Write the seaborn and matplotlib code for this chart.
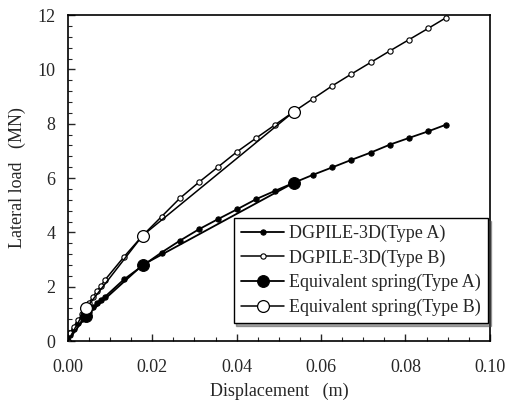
import numpy as np
import pandas as pd
import seaborn as sns
import matplotlib.pyplot as plt
from matplotlib.ticker import MultipleLocator

# displacement steps shared by the DGPILE-3D runs (m)
disp = [0, 0.0006, 0.0014, 0.0024, 0.0034, 0.0043, 0.0050, 0.0060, 0.0069, 0.0078,
        0.0088, 0.0133, 0.0177, 0.0222, 0.0265, 0.0310, 0.0356, 0.0401, 0.0447,
        0.0491, 0.0536, 0.0581, 0.0626, 0.0672, 0.0718, 0.0763, 0.0809, 0.0854, 0.0897]
load_a = [0, 0.22, 0.45, 0.65, 0.80, 0.95, 1.08, 1.24, 1.40, 1.52,
          1.63, 2.27, 2.77, 3.26, 3.69, 4.11, 4.49, 4.85, 5.23,
          5.53, 5.83, 6.12, 6.39, 6.67, 6.94, 7.23, 7.48, 7.72, 7.97]
load_b = [0, 0.28, 0.53, 0.77, 0.99, 1.20, 1.41, 1.63, 1.85, 2.02,
          2.25, 3.10, 3.88, 4.58, 5.25, 5.84, 6.41, 6.97, 7.48,
          7.96, 8.45, 8.92, 9.39, 9.83, 10.26, 10.68, 11.10, 11.51, 11.91]

# equivalent spring (tri-linear)
spring_disp = [0, 0.0043, 0.0177, 0.0536]
spring_a = [0, 0.92, 2.80, 5.83]
spring_b = [0, 1.20, 3.88, 8.45]

sns.set_style('ticks')
plt.rcParams['font.family'] = ['Liberation Serif', 'DejaVu Serif']
plt.rcParams['xtick.direction'] = 'in'
plt.rcParams['ytick.direction'] = 'in'

fig = plt.figure(figsize=(5.14, 4.07), dpi=100)
ax = fig.add_axes([0.132, 0.162, 0.821, 0.801])

sns.lineplot(x=disp, y=load_a, ax=ax, sort=False, estimator=None, color='black',
             lw=1.3, marker='o', ms=3.8, mfc='black', mec='black',
             label='DGPILE-3D(Type A)')
sns.lineplot(x=disp, y=load_b, ax=ax, sort=False, estimator=None, color='black',
             lw=1.1, marker='o', ms=3.8, mfc='white', mec='black', mew=0.8,
             label='DGPILE-3D(Type B)')
sns.lineplot(x=spring_disp, y=spring_a, ax=ax, sort=False, estimator=None, color='black',
             lw=1.3, marker='o', ms=8.5, mfc='black', mec='black', markevery=[1, 2, 3],
             label='Equivalent spring(Type A)')
sns.lineplot(x=spring_disp, y=spring_b, ax=ax, sort=False, estimator=None, color='black',
             lw=1.1, marker='o', ms=8.5, mfc='white', mec='black', mew=0.9, markevery=[1, 2, 3],
             label='Equivalent spring(Type B)')

ax.set_xlim(0, 0.10)
ax.set_ylim(0, 12)
ax.xaxis.set_major_locator(MultipleLocator(0.02))
ax.xaxis.set_minor_locator(MultipleLocator(0.005))
ax.yaxis.set_major_locator(MultipleLocator(2))
ax.yaxis.set_minor_locator(MultipleLocator(0.4))
ax.set_xticklabels([f'{v:.2f}' for v in ax.get_xticks()])
ax.tick_params(which='major', length=5, width=1, labelsize=13)
ax.tick_params(axis='x', pad=13)
ax.tick_params(axis='y', pad=9)
ax.tick_params(which='minor', length=3, width=0.8)
for s in ax.spines.values():
    s.set_linewidth(1.2)
    s.set_color('black')

ax.set_xlabel('Displacement   (m)', fontsize=13, labelpad=5)
ax.set_ylabel('Lateral load   (MN)', fontsize=13, labelpad=8)

leg = ax.legend(loc='lower right', bbox_to_anchor=(0.995, 0.055), fontsize=13,
                frameon=True, fancybox=False, shadow=True, edgecolor='black',
                handlelength=2.4, handletextpad=0.25, borderpad=0.4, labelspacing=0.4,
                borderaxespad=0)
leg.get_frame().set_linewidth(1.0)
for h in leg.legend_handles:
    h.set_markevery([1])

fig.savefig('out.png', dpi=100)
